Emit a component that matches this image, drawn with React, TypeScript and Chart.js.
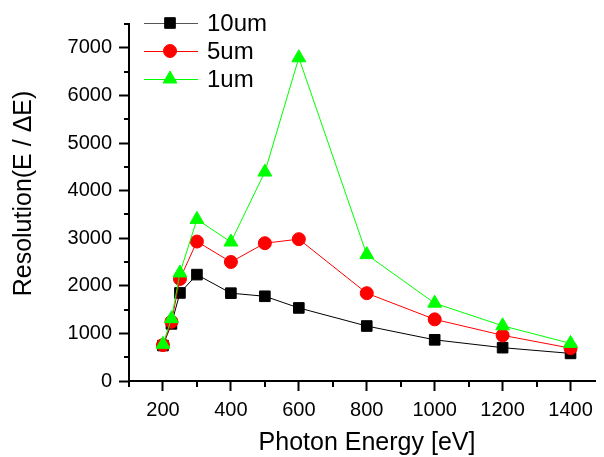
import React, { useEffect, useRef } from 'react';
import { Chart, registerables } from 'chart.js';

Chart.register(...registerables);

// ---- data ----
const photonEnergy = [200, 225, 250, 300, 400, 500, 600, 800, 1000, 1200, 1400];
const res10um = [745, 1200, 1850, 2235, 1845, 1780, 1535, 1155, 865, 700, 580];
const res5um = [755, 1245, 2145, 2930, 2500, 2895, 2980, 1845, 1295, 960, 690];
const res1um = [770, 1310, 2270, 3395, 2920, 4390, 6790, 2655, 1635, 1160, 790];
const seriesLabels = ['10um', '5um', '1um'];
const xTickValues = [200, 400, 600, 800, 1000, 1200, 1400];
const yTickValues = [0, 1000, 2000, 3000, 4000, 5000, 6000, 7000];
const xMinorTicks = [100, 300, 500, 700, 900, 1100, 1300];
const yMinorTicks = [500, 1500, 2500, 3500, 4500, 5500, 6500, 7500];
const xTitle = 'Photon Energy [eV]';
const yTitle = 'Resolution(E / ΔE)';

const FONT = "'Liberation Sans', Arial, sans-serif";

function drawMarker(ctx: CanvasRenderingContext2D, style: string, x: number, y: number, r: number) {
  ctx.beginPath();
  if (style === 'rect') {
    const s = r * Math.SQRT1_2;
    ctx.rect(x - s, y - s, 2 * s, 2 * s);
  } else if (style === 'circle') {
    ctx.arc(x, y, r, 0, Math.PI * 2);
  } else {
    for (let i = 0; i < 3; i++) {
      const a = -Math.PI / 2 + (i * 2 * Math.PI) / 3;
      const px = x + Math.cos(a) * r;
      const py = y + Math.sin(a) * r;
      if (i === 0) ctx.moveTo(px, py);
      else ctx.lineTo(px, py);
    }
    ctx.closePath();
  }
  ctx.fill();
  ctx.stroke();
}

const decorPlugin = {
  id: 'decor',
  afterDraw(chart: any) {
    const ctx: CanvasRenderingContext2D = chart.ctx;
    const xs = chart.scales.x;
    const ys = chart.scales.y;
    const area = chart.chartArea;
    ctx.save();
    ctx.strokeStyle = '#000';
    ctx.lineWidth = 2;
    for (const v of xMinorTicks) {
      const px = Math.round(xs.getPixelForValue(v));
      ctx.beginPath();
      ctx.moveTo(px, area.bottom);
      ctx.lineTo(px, area.bottom + 6);
      ctx.stroke();
    }
    for (const v of yMinorTicks) {
      const py = Math.round(ys.getPixelForValue(v));
      ctx.beginPath();
      ctx.moveTo(area.left, py);
      ctx.lineTo(area.left - 5, py);
      ctx.stroke();
    }
    // axis titles
    ctx.fillStyle = '#000';
    ctx.font = `25px ${FONT}`;
    ctx.textAlign = 'center';
    ctx.textBaseline = 'middle';
    ctx.fillText(xTitle, (area.left + area.right) / 2 + 5, area.bottom + 62);
    ctx.save();
    ctx.translate(area.left - 105, (area.top + area.bottom) / 2 - 9);
    ctx.rotate(-Math.PI / 2);
    ctx.fillText(yTitle, 0, 0);
    ctx.restore();
    // legend
    const legendX = area.left + 15;
    const legendY = area.top - 1;
    const rowH = 28;
    chart.data.datasets.forEach((ds: any, i: number) => {
      const y = legendY + i * rowH;
      ctx.strokeStyle = ds.legendLineColor || ds.borderColor;
      ctx.lineWidth = 1;
      ctx.beginPath();
      ctx.moveTo(legendX, y + 0.5);
      ctx.lineTo(legendX + 54, y + 0.5);
      ctx.stroke();
      ctx.fillStyle = ds.pointBackgroundColor;
      ctx.strokeStyle = ds.pointBorderColor;
      ctx.lineWidth = 1;
      drawMarker(ctx, ds.pointStyle, legendX + 26, y, ds.pointRadius);
      ctx.fillStyle = '#000';
      ctx.font = `24px ${FONT}`;
      ctx.textAlign = 'left';
      ctx.textBaseline = 'middle';
      ctx.fillText(ds.label, legendX + 63, y + 1);
    });
    ctx.restore();
  },
};

export default function App() {
  const canvasRef = useRef<HTMLCanvasElement | null>(null);

  useEffect(() => {
    if (!canvasRef.current) return;
    Chart.defaults.font.family = FONT;
    const mk = (label: string, values: number[], color: string, style: string, radius: number, order: number, legendLineColor?: string) => ({
      label,
      data: photonEnergy.map((x, i) => ({ x, y: values[i] })),
      borderColor: color,
      backgroundColor: color,
      borderWidth: 1,
      pointStyle: style,
      pointRadius: radius,
      pointHoverRadius: radius,
      pointBackgroundColor: color,
      pointBorderColor: color,
      pointBorderWidth: 1,
      order,
      clip: false as any,
      legendLineColor,
    });
    const chart = new Chart(canvasRef.current, {
      type: 'line',
      data: {
        datasets: [
          mk(seriesLabels[0], res10um, '#000000', 'rect', 7.5, 2, '#555555'),
          mk(seriesLabels[1], res5um, '#ff0000', 'circle', 6.5, 1),
          mk(seriesLabels[2], res1um, '#00ff00', 'triangle', 8, 0),
        ] as any,
      },
      options: {
        animation: false,
        responsive: true,
        maintainAspectRatio: false,
        layout: { padding: { top: 24, right: 0, bottom: 0, left: 0 } },
        plugins: { legend: { display: false }, tooltip: { enabled: false } },
        scales: {
          x: {
            type: 'linear',
            min: 100,
            max: 1472,
            afterBuildTicks: (s: any) => { s.ticks = xTickValues.map((v) => ({ value: v })); },
            afterFit: (s: any) => { s.height = 76; },
            ticks: {
              color: '#000',
              font: { size: 20, family: FONT },
              padding: 7,
              maxRotation: 0,
              autoSkip: false,
              callback: (v: any) => String(v),
            },
            grid: { display: true, drawOnChartArea: false, drawTicks: true, tickLength: 10, tickWidth: 2, tickColor: '#000' },
            border: { display: true, color: '#000', width: 2 },
            title: { display: false },
          },
          y: {
            type: 'linear',
            min: 0,
            max: 7500,
            afterBuildTicks: (s: any) => { s.ticks = yTickValues.map((v) => ({ value: v })); },
            afterFit: (s: any) => { s.width = 129; },
            ticks: {
              color: '#000',
              font: { size: 20, family: FONT },
              padding: 7,
              autoSkip: false,
              callback: (v: any) => String(v),
            },
            grid: { display: true, drawOnChartArea: false, drawTicks: true, tickLength: 10, tickWidth: 2, tickColor: '#000' },
            border: { display: true, color: '#000', width: 2 },
            title: { display: false },
          },
        },
      } as any,
      plugins: [decorPlugin],
    });
    return () => chart.destroy();
  }, []);

  return (
    <div style={{ position: 'fixed', left: 0, top: 0, width: 604, height: 457, background: '#fff' }}>
      <canvas ref={canvasRef} />
    </div>
  );
}
